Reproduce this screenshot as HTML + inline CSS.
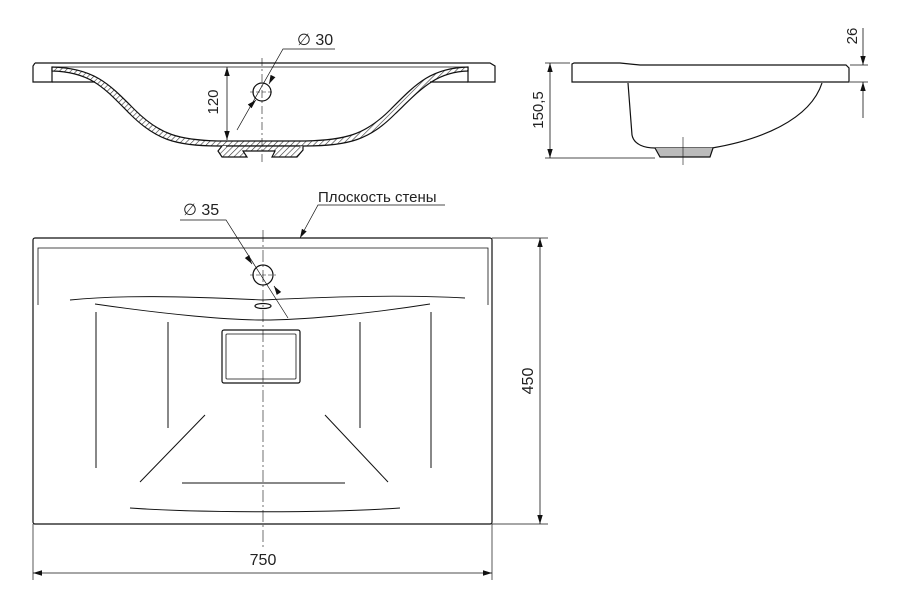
<!DOCTYPE html>
<html><head><meta charset="utf-8"><style>
html,body{margin:0;padding:0;background:#fff;}
svg{display:block;}
text{font-family:"Liberation Sans",sans-serif;fill:#222;}
</style></head><body>
<svg width="900" height="600" viewBox="0 0 900 600" xmlns="http://www.w3.org/2000/svg">
<defs>
<pattern id="h" width="4" height="4" patternUnits="userSpaceOnUse" patternTransform="rotate(45)">
<rect width="4" height="4" fill="#fff"/><line x1="0" y1="0" x2="0" y2="4" stroke="#333" stroke-width="1.2"/></pattern>
<marker id="a" viewBox="0 0 10 10" refX="10" refY="5" markerWidth="9" markerHeight="9" orient="auto-start-reverse" markerUnits="userSpaceOnUse"><path d="M0,2 L10,5 L0,8 Z" fill="#111"/></marker>
</defs>
<g fill="none" stroke="#111" stroke-width="1.2">
<!-- SECTION VIEW -->
<path d="M35,63 L490,63 L495,66 L495,82 L468,82 L468,67 M35,63 L33,66 L33,82 L52,82 L52,67"/>
<line x1="52" y1="67" x2="468" y2="67" stroke-width="0.8"/>
<path d="M52,67 C95,68 110,85 135,110 C160,135 180,140 218,141 L305,141 C345,140 365,135 390,110 C415,85 430,68 468,67 L468,71 C435,72 420,90 395,114 C370,139 350,146 305,146 L218,146 C175,146 155,139 130,114 C105,89 92,72 52,71 Z" fill="url(#h)"/>
<line x1="52" y1="82" x2="95" y2="82"/><line x1="430" y1="82" x2="468" y2="82"/>
<path d="M222,146 L218,151 L222,157 L247,157 L243,151 L275,151 L272,157 L297,157 L303,150 L303,146" fill="url(#h)"/>
<line x1="226" y1="146" x2="300" y2="146"/>
<circle cx="262" cy="92" r="9"/>
<line x1="262" y1="58" x2="262" y2="162" stroke-width="0.6" stroke-dasharray="8,3,2,3"/>
<line x1="250" y1="92" x2="274" y2="92" stroke-width="0.6" stroke-dasharray="4,2"/>
<line x1="227" y1="67" x2="227" y2="140" stroke-width="0.8" marker-start="url(#a)" marker-end="url(#a)"/>
<path d="M237,130 L283,49 L335,49" stroke-width="0.7"/>
<line x1="255" y1="101" x2="256" y2="100" marker-end="url(#a)" stroke-width="0.7"/>
<line x1="270" y1="82" x2="269" y2="84" marker-end="url(#a)" stroke-width="0.7"/>
<!-- SIDE VIEW -->
<path d="M574,63 L620,63 L640,65 L846,65 L849,68 L849,82 L572,82 L572,64 Z"/>
<path d="M628,83 L632,135 C634,145 645,148 655,148 L712,148 C760,140 810,120 822,83"/>
<path d="M655,148 L660,157 L710,157 L713,148" fill="#bbb"/>
<line x1="683" y1="137" x2="683" y2="165" stroke-width="0.6"/>
<line x1="545" y1="63" x2="570" y2="63" stroke-width="0.7"/><line x1="545" y1="158" x2="655" y2="158" stroke-width="0.7"/>
<line x1="550" y1="63" x2="550" y2="158" stroke-width="0.8" marker-start="url(#a)" marker-end="url(#a)"/>
<line x1="850" y1="65" x2="868" y2="65" stroke-width="0.7"/><line x1="850" y1="82" x2="868" y2="82" stroke-width="0.7"/>
<line x1="863" y1="28" x2="863" y2="65" stroke-width="0.8" marker-end="url(#a)"/>
<line x1="863" y1="118" x2="863" y2="82" stroke-width="0.8" marker-end="url(#a)"/>
<!-- PLAN VIEW -->
<rect x="33" y="238" width="459" height="286" rx="2"/>
<path d="M38,305 L38,248 L488,248 L488,305" stroke-width="0.8"/>
<circle cx="263" cy="275" r="10"/>
<line x1="250" y1="275" x2="276" y2="275" stroke-width="0.6" stroke-dasharray="4,2"/>
<path d="M70,300 C120,295 180,296 263,300 C340,296 410,295 465,298" stroke-width="0.9"/>
<path d="M95,304 C170,315 230,320 263,320 C300,320 360,315 430,304" stroke-width="0.9"/>
<ellipse cx="263" cy="306" rx="8" ry="2.5"/>
<rect x="222" y="330" width="78" height="53" rx="2"/>
<rect x="226" y="334" width="70" height="45" rx="1" stroke-width="0.8"/>
<g stroke-width="1">
<line x1="96" y1="312" x2="96" y2="468"/><line x1="168" y1="322" x2="168" y2="428"/>
<line x1="360" y1="322" x2="360" y2="428"/><line x1="431" y1="312" x2="431" y2="468"/>
<line x1="205" y1="415" x2="140" y2="482"/><line x1="325" y1="415" x2="388" y2="482"/>
<line x1="182" y1="483" x2="345" y2="483"/>
<path d="M130,508 C200,513 330,513 400,508"/>
</g>
<line x1="263" y1="230" x2="263" y2="548" stroke-width="0.6" stroke-dasharray="12,3,2,3"/>
<!-- dims -->
<line x1="33" y1="524" x2="33" y2="580" stroke-width="0.7"/><line x1="492" y1="524" x2="492" y2="580" stroke-width="0.7"/>
<line x1="33" y1="573" x2="492" y2="573" stroke-width="0.8" marker-start="url(#a)" marker-end="url(#a)"/>
<line x1="492" y1="238" x2="548" y2="238" stroke-width="0.7"/><line x1="492" y1="524" x2="548" y2="524" stroke-width="0.7"/>
<line x1="540" y1="238" x2="540" y2="524" stroke-width="0.8" marker-start="url(#a)" marker-end="url(#a)"/>
<path d="M180,220 L226,220 L288,318" stroke-width="0.7"/>
<line x1="248" y1="258" x2="252" y2="264" stroke-width="0.7" marker-end="url(#a)"/>
<line x1="278" y1="292" x2="274" y2="286" stroke-width="0.7" marker-end="url(#a)"/>
<path d="M445,205 L318,205 L300,238" stroke-width="0.7" marker-end="url(#a)"/>
</g>
<text x="297" y="45" font-size="16">∅ 30</text>
<text transform="translate(218,102) rotate(-90)" font-size="15" text-anchor="middle">120</text>
<text transform="translate(543,110) rotate(-90)" font-size="15" text-anchor="middle">150,5</text>
<text transform="translate(857,36) rotate(-90)" font-size="15" text-anchor="middle">26</text>
<text x="183" y="215" font-size="16">∅ 35</text>
<text x="318" y="202" font-size="15">Плоскость стены</text>
<text x="263" y="565" font-size="16" text-anchor="middle">750</text>
<text transform="translate(533,381) rotate(-90)" font-size="16" text-anchor="middle">450</text>
</svg>
</body></html>
